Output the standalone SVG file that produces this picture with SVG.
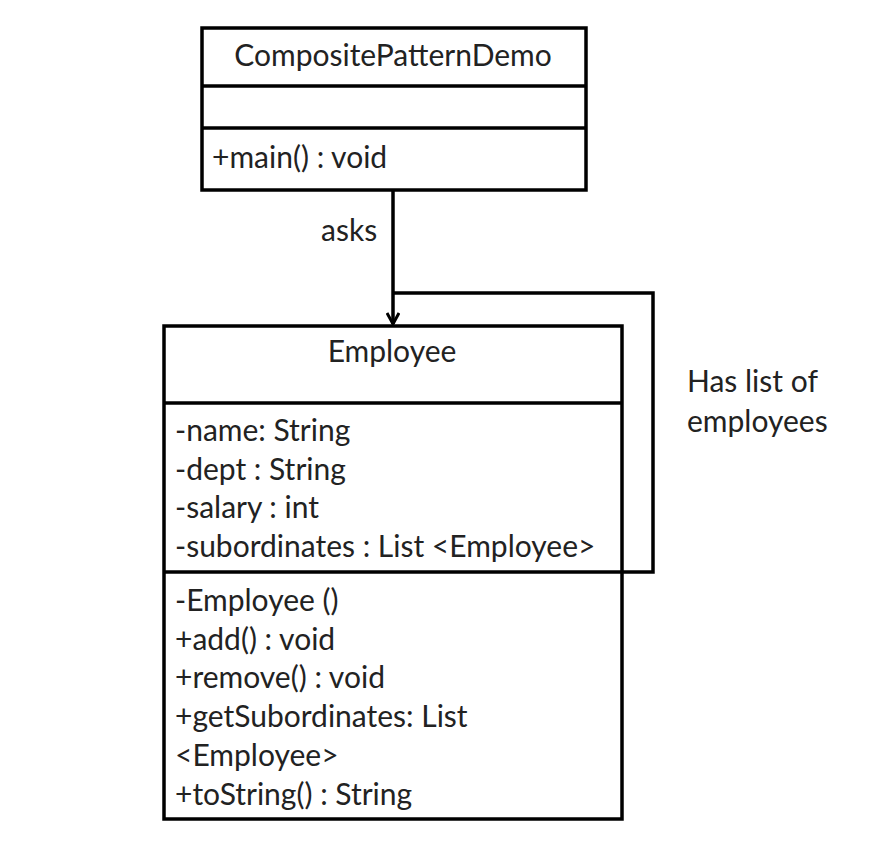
<svg xmlns="http://www.w3.org/2000/svg" width="882" height="856" viewBox="0 0 882 856">
<style>
.box{fill:#fff;stroke:#000;stroke-width:3.5}
.div{stroke:#000;stroke-width:3.5}
.t{font-family:Lato,"Open Sans","Liberation Sans",sans-serif;font-size:30px;fill:#222}
.c{text-anchor:middle}
.conn{fill:none;stroke:#000;stroke-width:3.5}
</style>
<defs>
<marker id="open" viewBox="0 0 14 14" refX="12" refY="7" markerWidth="14" markerHeight="14" markerUnits="userSpaceOnUse" orient="auto">
<path d="M1,1 L12,7 L1,13" fill="none" stroke="#000" stroke-width="3"/>
</marker>
</defs>
<rect width="882" height="856" fill="#fff"/>
<g id="CompositePatternDemo">
<rect class="box" x="202" y="28" width="384" height="162"/>
<line class="div" x1="202" y1="86" x2="586" y2="86"/>
<line class="div" x1="202" y1="128" x2="586" y2="128"/>
<text class="t c" x="393" y="66">CompositePatternDemo</text>
<text class="t" x="212" y="168">+main() : void</text>
</g>
<g id="Employee">
<rect class="box" x="164" y="326" width="458" height="493"/>
<line class="div" x1="164" y1="403" x2="622" y2="403"/>
<line class="div" x1="164" y1="572" x2="622" y2="572"/>
<text class="t c" x="392" y="362">Employee</text>
<text class="t" x="175" y="441">-name: String</text>
<text class="t" x="175" y="480">-dept : String</text>
<text class="t" x="175" y="518">-salary : int</text>
<text class="t" x="175" y="557">-subordinates : List &lt;Employee&gt;</text>
<text class="t" x="175" y="611">-Employee ()</text>
<text class="t" x="175" y="650">+add() : void</text>
<text class="t" x="175" y="688">+remove() : void</text>
<text class="t" x="175" y="727">+getSubordinates: List</text>
<text class="t" x="175" y="766">&lt;Employee&gt;</text>
<text class="t" x="175" y="805">+toString() : String</text>
</g>
<g id="connectors">
<line class="conn" x1="393" y1="190" x2="393" y2="324" marker-end="url(#open)"/>
<polyline class="conn" points="393,293 653,293 653,572 622,572"/>
<text class="t" x="321" y="241">asks</text>
<text class="t" x="687" y="392">Has list of</text>
<text class="t" x="687" y="432">employees</text>
</g>
</svg>
